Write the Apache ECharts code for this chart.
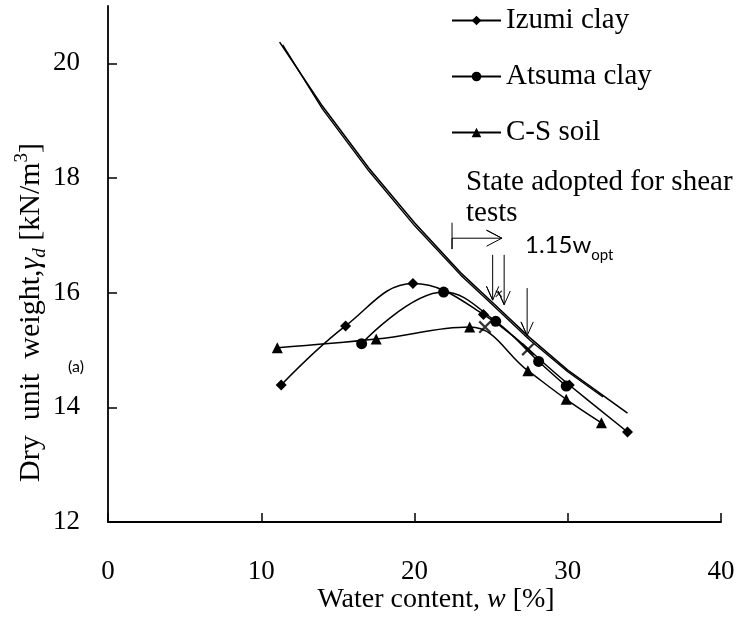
<!DOCTYPE html>
<html><head><meta charset="utf-8">
<script src="https://cdn.jsdelivr.net/npm/echarts@6/dist/echarts.min.js"></script>
<style>html,body{margin:0;padding:0;background:#fff}#c{width:753px;height:619px}</style>
</head><body><div id="c"></div>
<script>
// ---- data ----
const izumiW = [11.3, 15.5, 19.9, 24.5, 30.1, 33.9];
const izumiG = [14.39, 15.42, 16.16, 15.62, 14.39, 13.57];
const atsumaW = [16.55, 21.9, 25.3, 28.1, 29.9];
const atsumaG = [15.11, 16.01, 15.50, 14.80, 14.37];
const csW = [11.05, 17.5, 23.6, 27.4, 29.9, 32.2];
const csG = [15.04, 15.19, 15.40, 14.64, 14.14, 13.73];
// saturation (zero air void) curves
const zav1W = [11.2, 14, 17, 20, 23, 25, 27.5, 30, 33.9];
const zav1G = [20.37, 19.25, 18.18, 17.22, 16.35, 15.85, 15.22, 14.65, 13.9];
const zav2W = [11.4, 14, 17, 20, 23, 25, 27.5, 30, 32.3];
const zav2G = [20.32, 19.2, 18.13, 17.17, 16.31, 15.81, 15.18, 14.62, 14.18];
// state adopted for shear tests (x marks)
const shearW = [24.6, 27.4];
const shearG = [15.4, 15.01];
const smallXW = [25.5];
const smallXG = [15.98];
// annotation arrows (data coordinates)
const arrow1W = [25.1, 25.1, 24.7, 25.1, 25.5];
const arrow1G = [16.66, 15.87, 16.11, 15.87, 16.11];
const arrow2W = [25.85, 25.85, 25.45, 25.85, 26.25];
const arrow2G = [16.66, 15.79, 16.03, 15.79, 16.03];
const arrow3W = [27.35, 27.35, 26.95, 27.35, 27.75];
const arrow3G = [16.08, 15.25, 15.49, 15.25, 15.49];
const bracketW = [22.45, 22.45, 22.45, 25.7, 24.7, 25.7, 24.7];
const bracketG = [17.22, 16.76, 16.95, 16.95, 17.09, 16.95, 16.81];
const xTicks = [0, 10, 20, 30, 40];
const yLabels = [12, 14, 16, 18, 20];
const yTicks = [14, 16, 18, 20];

const zip = (a, b) => a.map((v, i) => [v, b[i]]);
const serif = 'Liberation Serif';
const black = '#000';

function dataSeries(name, w, g, symbol, size) {
  return {
    name, type: 'line', data: zip(w, g), smooth: 0.4,
    symbol, symbolSize: size, showSymbol: true,
    lineStyle: { color: black, width: 1.5 },
    itemStyle: { color: black },
    z: 3
  };
}
function plainLine(w, g, width) {
  return {
    type: 'line', data: zip(w, g), smooth: false, symbol: 'none',
    lineStyle: { color: black, width: width || 1 }, silent: true, z: 2
  };
}
const xPath = 'path://M0,1.2L1.2,0L10,8.8L8.8,10Z M8.8,0L10,1.2L1.2,10L0,8.8Z';

const chart = echarts.init(document.getElementById('c'));
chart.setOption({
  animation: false,
  backgroundColor: '#fff',
  grid: { left: 108, right: 32, top: 6, bottom: 97, containLabel: false },
  xAxis: {
    type: 'value', min: 0, max: 40, interval: 10,
    axisLine: { show: true, lineStyle: { color: black, width: 1.8 } },
    axisTick: { show: true, inside: true, length: 9, lineStyle: { color: black, width: 1.5 }, customValues: xTicks },
    axisLabel: { fontFamily: serif, fontSize: 27, color: black, margin: 36, customValues: xTicks },
    splitLine: { show: false }
  },
  yAxis: {
    type: 'value', min: 12, max: 21, interval: 2,
    axisLine: { show: true, lineStyle: { color: black, width: 1.8 } },
    axisTick: { show: true, inside: true, length: 9, lineStyle: { color: black, width: 1.5 }, customValues: yTicks },
    axisLabel: { fontFamily: serif, fontSize: 27, color: black, margin: 28, customValues: yLabels },
    splitLine: { show: false }
  },
  legend: {
    orient: 'vertical', left: 451, top: 5, padding: 0,
    data: ['Izumi clay', 'Atsuma clay', 'C-S soil'],
    itemWidth: 49, itemHeight: 12, itemGap: 25,
    textStyle: { fontFamily: serif, fontSize: 29, color: black, lineHeight: 31 },
    selectedMode: false
  },
  series: [
    plainLine(zav1W, zav1G, 1.6),
    plainLine(zav2W, zav2G, 1.4),
    dataSeries('Izumi clay', izumiW, izumiG, 'diamond', 11),
    dataSeries('Atsuma clay', atsumaW, atsumaG, 'circle', 11),
    dataSeries('C-S soil', csW, csG, 'triangle', 11),
    { type: 'scatter', data: zip(shearW, shearG), symbol: xPath, symbolSize: 13,
      itemStyle: { color: black }, z: 4 },
    { type: 'scatter', data: zip(smallXW, smallXG), symbol: xPath, symbolSize: 7,
      itemStyle: { color: black }, z: 4 },
    plainLine(arrow1W, arrow1G, 1),
    plainLine(arrow2W, arrow2G, 1),
    plainLine(arrow3W, arrow3G, 1),
    plainLine(bracketW, bracketG, 1)
  ],
  graphic: [
    { type: 'text', x: 466, y: 168, style: { text: 'State adopted for shear', font: '29px "Liberation Serif"', fill: black } },
    { type: 'text', x: 466, y: 199, style: { text: 'tests', font: '29px "Liberation Serif"', fill: black } },
    { type: 'text', x: 525, y: 233, style: {
        text: '{a|1.15w}{s|opt}',
        rich: { a: { fontFamily: 'Lato', fontSize: 24, fill: black, lineHeight: 30, verticalAlign: 'top' },
                s: { fontFamily: 'Lato', fontSize: 15, fill: black, lineHeight: 30, verticalAlign: 'bottom' } } } },
    { type: 'text', x: 68, y: 359, style: { text: '(a)', font: '16px "Lato"', fill: black } },
    { type: 'text', x: 436, y: 600, style: {
        text: '{a|Water content, }{i|w}{a| [%]}', align: 'center', verticalAlign: 'middle',
        rich: { a: { fontFamily: serif, fontSize: 28, fill: black },
                i: { fontFamily: serif, fontSize: 28, fontStyle: 'italic', fill: black } } } },
    { type: 'text', x: 31, y: 482, rotation: Math.PI / 2, style: {
        text: '{a|Dry  unit  weight,}{g|γ}{s|d}{a| [kN/m}{p|3}{a|]}', align: 'left', verticalAlign: 'middle',
        rich: {
          a: { fontFamily: serif, fontSize: 30, fill: black, lineHeight: 36, verticalAlign: 'middle' },
          g: { fontFamily: serif, fontSize: 30, fontStyle: 'italic', fill: black, lineHeight: 36, verticalAlign: 'middle' },
          s: { fontFamily: serif, fontSize: 19, fontStyle: 'italic', fill: black, lineHeight: 36, verticalAlign: 'bottom' },
          p: { fontFamily: serif, fontSize: 19, fill: black, lineHeight: 36, verticalAlign: 'top' }
        } } }
  ]
});
</script></body></html>
